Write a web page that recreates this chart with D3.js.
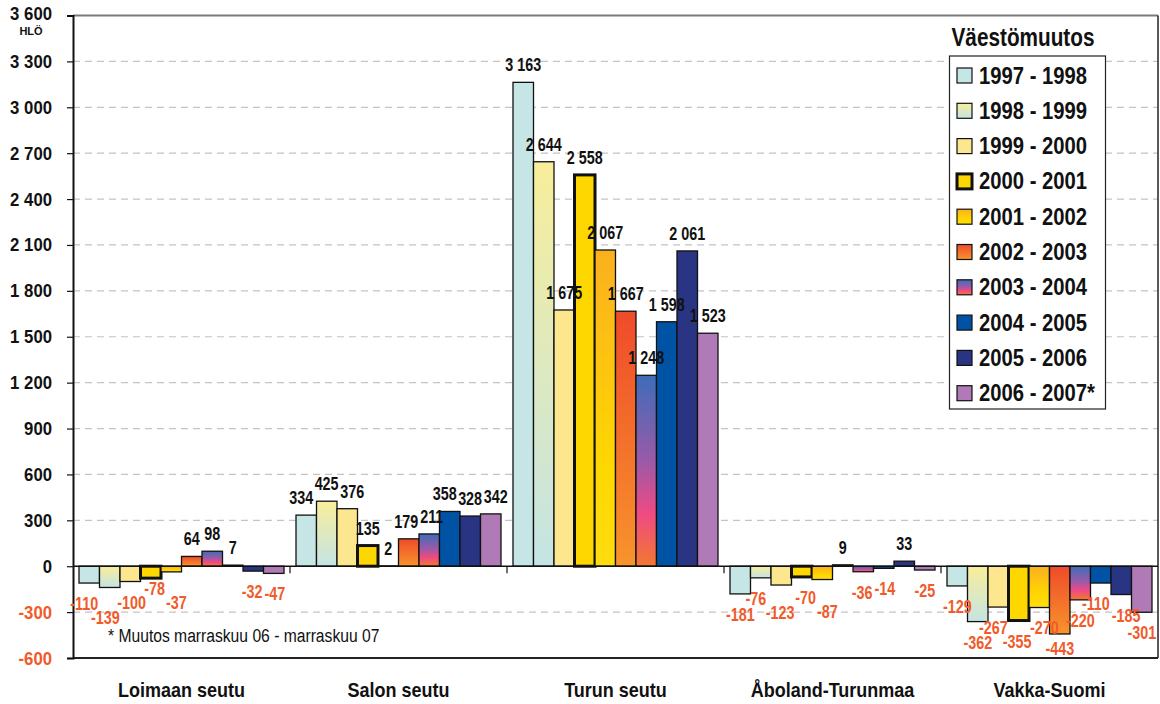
<!DOCTYPE html>
<html>
<head>
<meta charset="utf-8">
<script src="https://cdn.jsdelivr.net/npm/d3@7"></script>
<style>
  html, body { margin: 0; padding: 0; background: #fff; }
  svg { display: block; font-family: "Liberation Sans", Arial, sans-serif; }
</style>
</head>
<body>
<svg id="chart" width="1160" height="704"></svg>
<script>
// Regions (categories) and the yearly change periods (series)
const categories = ["Loimaan seutu", "Salon seutu", "Turun seutu", "Åboland-Turunmaa", "Vakka-Suomi"];
const periods = ["1997 - 1998", "1998 - 1999", "1999 - 2000", "2000 - 2001", "2001 - 2002",
                 "2002 - 2003", "2003 - 2004", "2004 - 2005", "2005 - 2006", "2006 - 2007*"];

// Population change per period, one value per region (same order as categories)
const change_1997_1998 = [-110, 334, 3163, -181, -129];
const change_1998_1999 = [-139, 425, 2644, -76, -362];
const change_1999_2000 = [-100, 376, 1675, -123, -267];
const change_2000_2001 = [-78, 135, 2558, -70, -355];
const change_2001_2002 = [-37, 2, 2067, -87, -270];
const change_2002_2003 = [64, 179, 1667, 9, -443];
const change_2003_2004 = [98, 211, 1248, -36, -220];
const change_2004_2005 = [7, 358, 1598, -14, -110];
const change_2005_2006 = [-32, 328, 2061, 33, -185];
const change_2006_2007 = [-47, 342, 1523, -25, -301];

const yTicks = d3.range(-600, 3601, 300);
const yUnit = "HLÖ";
const legendTitle = "Väestömuutos";
const footnote = "* Muutos marraskuu 06 - marraskuu 07";

const seriesValues = [change_1997_1998, change_1998_1999, change_1999_2000, change_2000_2001,
  change_2001_2002, change_2002_2003, change_2003_2004, change_2004_2005, change_2005_2006, change_2006_2007];

// Fill style per series: flat colour or vertical gradient stops
const fills = [
  { color: "#c6e6e6" },
  { stops: [[0, "#f8ee9a"], [1, "#c4e4e4"]] },
  { color: "#fde78e" },
  { color: "#ffd700" },
  { stops: [[0, "#fbb01f"], [0.7, "#ffd800"], [1, "#ffdc10"]] },
  { stops: [[0, "#ef4b2a"], [1, "#f8942b"]] },
  { stops: [[0, "#3d6db9"], [0.45, "#9a5aa8"], [0.72, "#ee4a84"], [1, "#f4782e"]] },
  { color: "#0053a4" },
  { color: "#293583" },
  { color: "#b07ab6" }
];

const NEG = "#f15a2a";
const fmt = d3.formatLocale({ decimal: ",", thousands: " ", grouping: [3], currency: ["", ""], minus: "-" }).format(",d");

const svg = d3.select("#chart");
const plotLeft = 73, plotRight = 1158, plotTop = 15.5, plotBottom = 658;

const y = d3.scaleLinear().domain([-600, 3600]).range([plotBottom, plotTop]);
const x0 = d3.scaleBand().domain(categories).range([plotLeft, plotRight]).padding(0);
const x1 = d3.scaleBand().domain(periods).range([6, x0.bandwidth() - 6]).padding(0);

// Gradients
const defs = svg.append("defs");
fills.forEach((f, i) => {
  if (f.stops) {
    const g = defs.append("linearGradient").attr("id", "g" + i)
      .attr("x1", 0).attr("y1", 0).attr("x2", 0).attr("y2", 1);
    f.stops.forEach(s => g.append("stop").attr("offset", s[0]).attr("stop-color", s[1]));
  }
});
const fillOf = i => fills[i].stops ? `url(#g${i})` : fills[i].color;

// Helper for horizontally condensed bold text
function label(sel, x, yy, txt, opts) {
  const o = Object.assign({ size: 16, sx: 0.86, weight: "bold", anchor: "middle", color: "#111" }, opts || {});
  return sel.append("text")
    .attr("transform", `translate(${x},${yy}) scale(${o.sx},1)`)
    .attr("text-anchor", o.anchor)
    .attr("font-size", o.size)
    .attr("font-weight", o.weight)
    .attr("fill", o.color)
    .text(txt);
}

// Grid lines
svg.append("g").selectAll("line")
  .data(yTicks.filter(t => t !== 0 && t !== -600 && t !== 3600))
  .join("line")
  .attr("x1", plotLeft).attr("x2", plotRight)
  .attr("y1", d => y(d)).attr("y2", d => y(d))
  .attr("stroke", "#c4c4c4").attr("stroke-width", 1.2)
  .attr("stroke-dasharray", "7,5");

// Plot frame
svg.append("line").attr("x1", plotLeft).attr("x2", plotRight).attr("y1", y(3600)).attr("y2", y(3600))
  .attr("stroke", "#7a7a7a").attr("stroke-width", 2);
svg.append("line").attr("x1", plotRight).attr("x2", plotRight).attr("y1", y(3600)).attr("y2", y(-600))
  .attr("stroke", "#222").attr("stroke-width", 1.5);
svg.append("line").attr("x1", plotLeft).attr("x2", plotRight).attr("y1", y(-600)).attr("y2", y(-600))
  .attr("stroke", "#222").attr("stroke-width", 2);

// Y axis
const yAxis = svg.append("g").attr("transform", `translate(${plotLeft},0)`)
  .call(d3.axisLeft(y).tickValues(yTicks).tickSize(6).tickFormat(""));
yAxis.select(".domain").attr("stroke", "#111").attr("stroke-width", 2);
yAxis.selectAll(".tick line").attr("stroke", "#111").attr("stroke-width", 1.2);
yTicks.forEach(t => {
  const by = t === 3600 ? y(t) + 4.5 : y(t) + 6.5;
  label(svg, 52, by, fmt(t), { size: 18, sx: 0.93, anchor: "end", color: t < 0 ? NEG : "#111" });
});
label(svg, 31, 35, yUnit, { size: 11, sx: 1 });

// Bars
const groups = svg.append("g").selectAll("g")
  .data(categories)
  .join("g")
  .attr("transform", d => `translate(${x0(d)},0)`);

groups.each(function (cat, ci) {
  const g = d3.select(this);
  const data = periods.map((p, si) => ({ p, si, v: seriesValues[si][ci] }));
  g.selectAll("rect")
    .data(data)
    .join("rect")
    .attr("x", d => x1(d.p))
    .attr("width", x1.bandwidth())
    .attr("y", d => y(Math.max(0, d.v)))
    .attr("height", d => Math.abs(y(d.v) - y(0)))
    .attr("fill", d => fillOf(d.si))
    .attr("stroke", "#111")
    .attr("stroke-width", d => d.si === 3 ? 3 : 1.3);
});

// Zero line and category ticks
svg.append("line").attr("x1", plotLeft).attr("x2", plotRight).attr("y1", y(0)).attr("y2", y(0))
  .attr("stroke", "#111").attr("stroke-width", 1.5);
svg.append("g").selectAll("line")
  .data(categories.slice(1))
  .join("line")
  .attr("x1", d => x0(d)).attr("x2", d => x0(d))
  .attr("y1", y(0)).attr("y2", y(0) + 7)
  .attr("stroke", "#111").attr("stroke-width", 1.2);

// Value labels: above positive bars, below negative bars (kept inside the frame).
// Neighbouring labels that collide are nudged sideways a little, then staggered vertically
// to the nearest free position that stays clear of the own bar and inside the frame.
const LBL_SIZE = 17.5, LBL_SX = 0.82, LBL_H = 14, MAX_DX = 5;
groups.each(function (cat, ci) {
  const g = d3.select(this);
  const items = periods.map((p, si) => {
    const v = seriesValues[si][ci];
    const ax = x1(p) + x1.bandwidth() / 2;
    const pos = v >= 0;
    const base = pos ? y(v) - 11 : Math.min(y(v) + 27, plotBottom - 3);
    const lo = pos ? plotTop + 14 : y(v) + 14;
    const hi = pos ? y(v) - 2 : plotBottom - 3;
    const node = label(g, ax, base, fmt(v), { size: LBL_SIZE, sx: LBL_SX, color: pos ? "#111" : NEG });
    const w = node.node().getComputedTextLength() * LBL_SX;
    return { node, ax, x: ax, b: base, nat: base, lo, hi, w, pos };
  });
  const hitX = (a, c, pad) => Math.abs(a.x - c.x) < (a.w + c.w) / 2 + pad;
  const hitY = (a, c) => Math.abs(a.b - c.b) < LBL_H - 0.01;

  // sideways relaxation between neighbours on the same side
  for (let it = 0; it < 40; it++) {
    for (let i = 0; i < items.length - 1; i++) {
      const a = items[i], c = items[i + 1];
      if (a.pos !== c.pos || !hitY(a, c)) continue;
      const ox = (a.w + c.w) / 2 + 2 - (c.x - a.x);
      if (ox <= 0) continue;
      a.x = Math.max(a.ax - MAX_DX, a.x - ox / 2);
      c.x = Math.min(c.ax + MAX_DX, c.x + ox / 2);
    }
  }
  // vertical staggering: nearest free baseline among candidates
  items.forEach((it, i) => {
    const prev = items.slice(0, i).filter(o => o.pos === it.pos && hitX(it, o, 1));
    const cands = [it.nat];
    prev.forEach(o => cands.push(o.b - LBL_H, o.b + LBL_H));
    cands.sort((a, b) => Math.abs(a - it.nat) - Math.abs(b - it.nat));
    for (const c of cands) {
      if (c < it.lo - 0.01 || c > it.hi + 0.01) continue;
      const trial = { x: it.x, w: it.w, b: c };
      if (prev.every(o => !hitY(trial, o))) { it.b = c; break; }
    }
    it.node.attr("transform", `translate(${it.x},${it.b}) scale(${LBL_SX},1)`);
  });
});

// Category labels
categories.forEach(c => {
  label(svg, x0(c) + x0.bandwidth() / 2, 697, c, { size: 20, sx: 0.9 });
});

// Footnote
label(svg, 108, 642, footnote, { size: 18, sx: 0.87, weight: "normal", anchor: "start" });

// Legend
label(svg, 1023, 46, legendTitle, { size: 25, sx: 0.83 });
svg.append("rect").attr("x", 949.5).attr("y", 56).attr("width", 156).attr("height", 353)
  .attr("fill", "#fff").attr("stroke", "#222").attr("stroke-width", 1.2);
const leg = svg.append("g").selectAll("g")
  .data(periods)
  .join("g")
  .attr("transform", (d, i) => `translate(957,${75 + i * 35.3})`);
leg.append("rect")
  .attr("x", 0).attr("y", -7).attr("width", 15).attr("height", 15)
  .attr("fill", (d, i) => fillOf(i))
  .attr("stroke", "#111")
  .attr("stroke-width", (d, i) => i === 3 ? 3 : 1.2);
leg.each(function (d) {
  label(d3.select(this), 22, 8.5, d, { size: 23, sx: 0.88, anchor: "start" });
});
</script>
</body>
</html>
